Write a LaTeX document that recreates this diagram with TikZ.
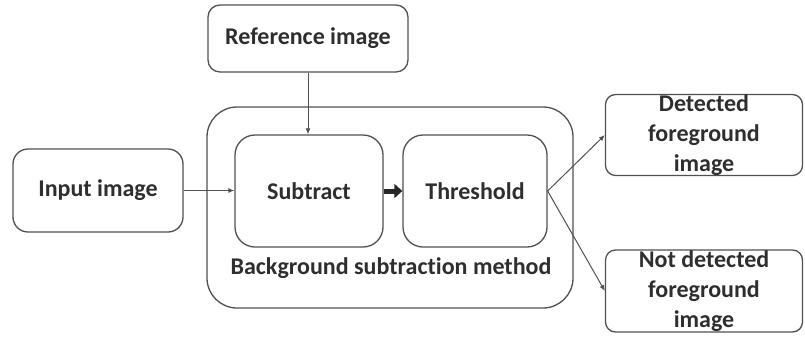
\documentclass[tikz,border=0pt]{standalone}
\usepackage{fontspec}
\setmainfont[Ligatures=NoCommon]{Carlito}
\usetikzlibrary{arrows.meta}
\definecolor{edge}{HTML}{505050}
\definecolor{ink}{HTML}{2E2E2E}
\tikzset{
  txt/.style={font=\fontsize{24}{30}\selectfont\bfseries, text=ink},
  box/.style={draw=edge, line width=1.3pt, rectangle, inner sep=0pt, txt, align=center},
  link/.style={draw=edge, line width=1pt, -{Latex[length=6pt,width=5pt]}},
  bigarrow/.style={draw=black!85, line width=5pt, -{Triangle[length=8pt,width=14pt]}}
}
\begin{document}
\begin{tikzpicture}[x=1pt,y=-1pt]
\useasboundingbox (0,0) rectangle (805,338);
% outer frame of the method
\node[box, rounded corners=30pt, minimum width=366pt, minimum height=201pt] (outer) at (390,207.5) {};
\node[box, rounded corners=12pt, minimum width=200pt, minimum height=67pt] (ref) at (308,38.5) {Reference image};
\node[box, rounded corners=20pt, minimum width=148pt, minimum height=112pt] (sub) at (309,191) {Subtract};
\node[box, rounded corners=20pt, minimum width=144pt, minimum height=112pt] (thr) at (475,191) {Threshold};
\node[txt, inner sep=0pt] (lbl) at (391,268) {Background subtraction method};
\node[box, rounded corners=15pt, minimum width=170pt, minimum height=83pt] (inp) at (98,190.5) {Input image};
\node[box, rounded corners=10pt, minimum width=197pt, minimum height=80pt] (det) at (704,135) {Detected\\foreground\\image};
\node[box, rounded corners=10pt, minimum width=197pt, minimum height=82pt] (nod) at (704,291) {Not detected\\foreground\\image};
% connectors
\draw[link] (ref.south) -- (ref.south |- sub.north);
\draw[link] (inp.east) -- (inp.east -| sub.west);
\draw[bigarrow] (sub.east) -- (thr.west);
\draw[link] (thr.east) -- (det.west);
\draw[link] (thr.east) -- (nod.west);
\end{tikzpicture}
\end{document}
